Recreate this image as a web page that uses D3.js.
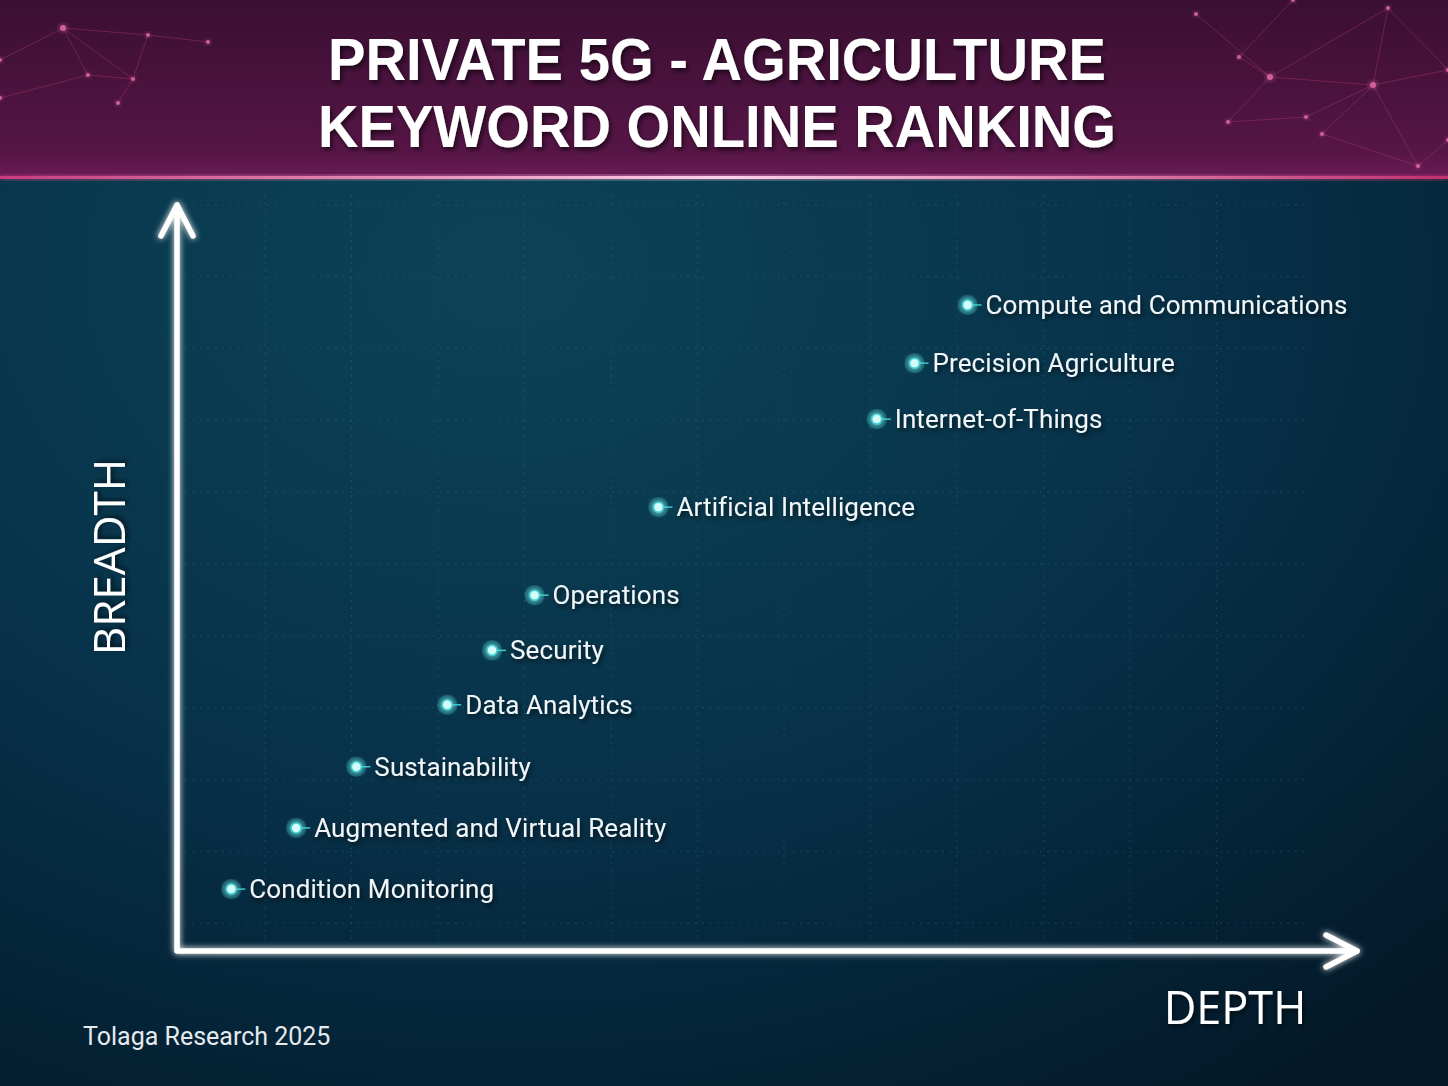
<!DOCTYPE html>
<html>
<head>
<meta charset="utf-8">
<script src="https://cdn.jsdelivr.net/npm/d3@7/dist/d3.min.js"></script>
<style>
  html, body { margin: 0; padding: 0; background: #06202e; }
  svg { display: block; }
</style>
</head>
<body>
<div class="chart"></div>
<script>
// keyword ranking data (depth = x, breadth = y, 0..100)
var keywords = [
    'Compute and Communications',
    'Precision Agriculture',
    'Internet-of-Things',
    'Artificial Intelligence',
    'Operations',
    'Security',
    'Data Analytics',
    'Sustainability',
    'Augmented and Virtual Reality',
    'Condition Monitoring'
];
var depth = [67.0, 62.5, 59.3, 40.8, 30.3, 26.7, 22.9, 15.2, 10.1, 4.6];
var breadth = [86.6, 78.8, 71.3, 59.5, 47.7, 40.3, 33.0, 24.7, 16.5, 8.3];

var titleLines = ['PRIVATE 5G - AGRICULTURE', 'KEYWORD ONLINE RANKING'];
var xLabel = 'DEPTH';
var yLabel = 'BREADTH';
var source = 'Tolaga Research 2025';

// header decoration (network nodes)
var netNodes = [
    [1293, 0], [1388, 8], [1270, 77], [1373, 85], [1228, 122], [1306, 117],
    [1322, 134], [1418, 166], [1239, 57], [1196, 14], [1448, 70], [1448, 140],
    [63, 28], [148, 35], [88, 75], [133, 79], [208, 42], [0, 98], [0, 60], [118, 103]
];
var netLinks = [
    [0, 8], [1, 3], [1, 2], [2, 3], [2, 4], [2, 8], [3, 6], [3, 5], [3, 7], [3, 10],
    [4, 5], [6, 7], [1, 10], [9, 2], [7, 11], [12, 14], [12, 15], [12, 13], [13, 16],
    [14, 15], [14, 17], [12, 18], [15, 19], [13, 15]
];

var W = 1448, H = 1086, headerH = 178;

var svg = d3.select('.chart').append('svg')
    .attr('width', W)
    .attr('height', H);

var defs = svg.append('defs');

var bodyGrad = defs.append('radialGradient')
    .attr('id', 'bodyGrad')
    .attr('cx', '0.35').attr('cy', '0.25').attr('r', '0.95');
bodyGrad.append('stop').attr('offset', '0%').attr('stop-color', '#0c4456');
bodyGrad.append('stop').attr('offset', '50%').attr('stop-color', '#07324a');
bodyGrad.append('stop').attr('offset', '100%').attr('stop-color', '#031726');

var headGrad = defs.append('linearGradient')
    .attr('id', 'headGrad')
    .attr('x1', 0).attr('y1', 0).attr('x2', 0).attr('y2', 1);
headGrad.append('stop').attr('offset', '0%').attr('stop-color', '#3a0f33');
headGrad.append('stop').attr('offset', '85%').attr('stop-color', '#561546');
headGrad.append('stop').attr('offset', '100%').attr('stop-color', '#6a1c55');

var lineGrad = defs.append('linearGradient')
    .attr('id', 'lineGrad')
    .attr('x1', 0).attr('x2', 1);
lineGrad.append('stop').attr('offset', '0%').attr('stop-color', '#c83c7c');
lineGrad.append('stop').attr('offset', '50%').attr('stop-color', '#ffd0e8');
lineGrad.append('stop').attr('offset', '100%').attr('stop-color', '#c0306e');

var glow = defs.append('filter').attr('id', 'glow')
    .attr('x', '-50%').attr('y', '-50%').attr('width', '200%').attr('height', '200%');
glow.append('feGaussianBlur').attr('stdDeviation', 3).attr('result', 'b');
var gm = glow.append('feMerge');
gm.append('feMergeNode').attr('in', 'b');
gm.append('feMergeNode').attr('in', 'SourceGraphic');

var shadow = defs.append('filter').attr('id', 'shadow')
    .attr('x', '-10%').attr('y', '-30%').attr('width', '120%').attr('height', '160%');
shadow.append('feDropShadow')
    .attr('dx', 2).attr('dy', 3).attr('stdDeviation', 2.5)
    .attr('flood-color', '#000').attr('flood-opacity', 0.6);

// backgrounds
svg.append('rect').attr('width', W).attr('height', H).attr('fill', 'url(#bodyGrad)');
svg.append('rect').attr('width', W).attr('height', headerH).attr('fill', 'url(#headGrad)');

var net = svg.append('g').attr('opacity', 0.75);
net.selectAll('line').data(netLinks).enter().append('line')
    .attr('x1', function (d) { return netNodes[d[0]][0]; })
    .attr('y1', function (d) { return netNodes[d[0]][1]; })
    .attr('x2', function (d) { return netNodes[d[1]][0]; })
    .attr('y2', function (d) { return netNodes[d[1]][1]; })
    .attr('stroke', '#c8407e')
    .attr('stroke-opacity', 0.45)
    .attr('stroke-width', 1);
net.selectAll('circle').data(netNodes).enter().append('circle')
    .attr('cx', function (d) { return d[0]; })
    .attr('cy', function (d) { return d[1]; })
    .attr('r', function (d, i) { return (i === 2 || i === 3 || i === 12) ? 3 : 2; })
    .attr('fill', '#ff7ab8')
    .attr('filter', 'url(#glow)');

svg.append('rect')
    .attr('x', 0).attr('y', headerH - 2).attr('width', W).attr('height', 3)
    .attr('fill', 'url(#lineGrad)')
    .attr('filter', 'url(#glow)');

// title
svg.append('g').selectAll('text').data(titleLines).enter().append('text')
    .attr('x', W / 2 - 7)
    .attr('y', function (d, i) { return 80 + i * 67; })
    .attr('text-anchor', 'middle')
    .attr('font-family', '"Liberation Sans", Arial, sans-serif')
    .attr('font-weight', 700)
    .attr('font-size', 59)
    .attr('fill', '#ffffff')
    .attr('textLength', function (d, i) { return i === 0 ? 778 : 798; })
    .attr('lengthAdjust', 'spacingAndGlyphs')
    .attr('filter', 'url(#shadow)')
    .text(function (d) { return d; });

// scales
var x = d3.scaleLinear().domain([0, 100]).range([177, 1357]);
var y = d3.scaleLinear().domain([0, 100]).range([951, 205]);

// dotted grid
var grid = svg.append('g')
    .attr('stroke', '#4d8a9a')
    .attr('stroke-opacity', 0.35)
    .attr('stroke-width', 1)
    .attr('stroke-dasharray', '1.5 6');
var gx = d3.range(12).map(function (i) { return 265 + i * 86.5; });
var gy = d3.range(11).map(function (i) { return 205 + i * 71.8; });
grid.selectAll('.gv').data(gx).enter().append('line')
    .attr('class', 'gv')
    .attr('x1', function (d) { return d; }).attr('x2', function (d) { return d; })
    .attr('y1', 195).attr('y2', 945);
grid.selectAll('.gh').data(gy).enter().append('line')
    .attr('class', 'gh')
    .attr('y1', function (d) { return d; }).attr('y2', function (d) { return d; })
    .attr('x1', 185).attr('x2', 1310);

// axes with arrows
var axes = svg.append('g')
    .attr('fill', 'none')
    .attr('stroke', '#ffffff')
    .attr('stroke-width', 5.5)
    .attr('stroke-linecap', 'round')
    .attr('stroke-linejoin', 'round')
    .attr('filter', 'url(#glow)');
axes.append('path')
    .attr('d', 'M' + x(0) + ',' + y(100) + 'L' + x(0) + ',' + y(0) + 'L' + x(100) + ',' + y(0));
axes.append('path')
    .attr('d', 'M' + (x(0) - 16) + ',' + (y(100) + 31) + 'L' + x(0) + ',' + y(100) + 'L' + (x(0) + 16) + ',' + (y(100) + 31));
axes.append('path')
    .attr('d', 'M' + (x(100) - 31) + ',' + (y(0) - 16) + 'L' + x(100) + ',' + y(0) + 'L' + (x(100) - 31) + ',' + (y(0) + 16));

// axis titles
svg.append('text')
    .attr('transform', 'translate(125,557) rotate(-90)')
    .attr('text-anchor', 'middle')
    .attr('font-family', '"Open Sans", Roboto, sans-serif')
    .attr('font-size', 44)
    .attr('fill', '#ffffff')
    .attr('filter', 'url(#shadow)')
    .text(yLabel);
svg.append('text')
    .attr('x', 1235).attr('y', 1024)
    .attr('text-anchor', 'middle')
    .attr('font-family', '"Open Sans", Roboto, sans-serif')
    .attr('font-size', 45)
    .attr('fill', '#ffffff')
    .attr('filter', 'url(#shadow)')
    .text(xLabel);

// points
var data = keywords.map(function (k, i) {
    return { name: k, depth: depth[i], breadth: breadth[i] };
});

var pts = svg.append('g').selectAll('g').data(data).enter().append('g')
    .attr('transform', function (d) {
        return 'translate(' + x(d.depth) + ',' + y(d.breadth) + ')';
    });
pts.append('line')
    .attr('x1', 0).attr('x2', 14)
    .attr('stroke', '#3cc8c8')
    .attr('stroke-width', 1.5);
pts.append('circle')
    .attr('r', 10)
    .attr('fill', '#2fd0d0')
    .attr('opacity', 0.25);
pts.append('circle')
    .attr('r', 5)
    .attr('fill', '#d6fbfb')
    .attr('stroke', '#35d4d4')
    .attr('stroke-width', 1.5)
    .attr('filter', 'url(#glow)');
pts.append('text')
    .attr('x', 18)
    .attr('dy', '0.35em')
    .attr('font-family', 'Roboto, "Noto Sans", sans-serif')
    .attr('font-size', 26)
    .attr('letter-spacing', 0.1)
    .attr('fill', '#f2f6f8')
    .attr('filter', 'url(#shadow)')
    .text(function (d) { return d.name; });

// source note
svg.append('text')
    .attr('x', 83).attr('y', 1045)
    .attr('font-family', 'Roboto, "Noto Sans", sans-serif')
    .attr('font-size', 25)
    .attr('fill', '#e4eaee')
    .text(source);
</script>
</body>
</html>
